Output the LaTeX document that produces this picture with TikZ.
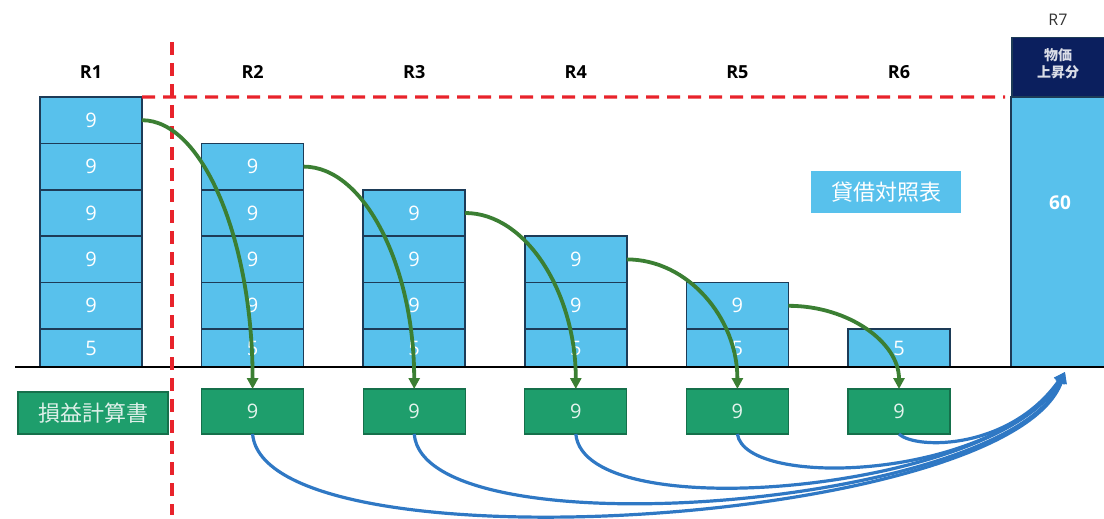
\documentclass[tikz,border=0pt]{standalone}
\usepackage{fontspec}
\setmainfont{Open Sans}
\newfontfamily\jp{Noto Sans CJK JP}
\usetikzlibrary{arrows.meta}

\definecolor{bsfill}{HTML}{58C1EC}
\definecolor{bsedge}{HTML}{1D3B57}
\definecolor{plfill}{HTML}{1E9E6C}
\definecolor{pledge}{HTML}{15704B}
\definecolor{plarrow}{HTML}{3B7F33}
\definecolor{flowblue}{HTML}{2F78C4}
\definecolor{cutred}{HTML}{E8232B}
\definecolor{navyhead}{HTML}{0B1F5E}

\begin{document}
\begin{tikzpicture}[x=1pt,y=-1pt,
  blk/.style={draw=bsedge, line width=1.5pt, fill=bsfill, minimum width=102pt,
    inner sep=0pt, outer sep=0pt, anchor=north west, text=white,
    font=\fontsize{20}{20}\selectfont},
  plbox/.style={draw=pledge, line width=1.2pt, fill=plfill, minimum width=102pt,
    minimum height=45pt, inner sep=0pt, outer sep=0pt, anchor=north west,
    text=white!88!plfill, font=\fontsize{20}{20}\selectfont},
  rlabel/.style={font=\fontsize{18}{18}\selectfont\bfseries, text=black},
  cutline/.style={draw=cutred, line width=3.4pt, dash pattern=on 13pt off 8pt},
  carry/.style={draw=plarrow, line width=3.8pt,
    -{Triangle[length=11pt,width=11pt]}},
  flow/.style={draw=flowblue, line width=3.2pt,
    -{Triangle[length=11pt,width=11pt]}}
]
\useasboundingbox (0,0) rectangle (1104,519);

% balance-sheet stacks: one 5-block at the bottom, 9-blocks above it
\foreach \i in {1,...,6} {
  \pgfmathsetmacro\cx{40+161.6*(\i-1)}
  \node[blk, minimum height=38pt] (c\i-0) at (\cx,329) {5};
  \pgfmathtruncatemacro\n{6-\i}
  \ifnum\n>0
    \foreach \k in {1,...,\n} {
      \node[blk, minimum height=46.4pt] (c\i-\k) at (\cx,{329-46.4*\k}) {9};
    }
  \fi
  \node[rlabel] (r\i) at ({\cx+51},72) {R\i};
}

% profit-and-loss boxes
\foreach \i in {2,...,6} {
  \pgfmathsetmacro\cx{40+161.6*(\i-1)}
  \node[plbox] (g\i) at (\cx,389) {9};
}
\node[plbox, minimum width=150pt, minimum height=42pt, text=white!85!plfill,
  font=\jp\fontsize{22}{22}\selectfont] (pl) at (18,392) {損益計算書};

% R7: price-increase column
\node[draw=bsedge, line width=1.5pt, fill=navyhead, minimum width=100pt,
  minimum height=60pt, inner sep=0pt, anchor=north west] (r7head) at (1011,37) {};
\node[text=white!85!navyhead, font=\jp\bfseries\fontsize{14}{17}\selectfont, align=center,
  inner sep=0pt] (r7text) at (1058,64) {物価\\上昇分};
\node[draw=bsedge, line width=1.5pt, fill=bsfill, minimum width=100pt,
  minimum height=270pt, inner sep=0pt, outer sep=0pt, anchor=north west] (r7body) at (1011,97) {};
\node[text=white, font=\fontsize{19}{19}\selectfont\bfseries] (sixty) at (1060,203) {60};
\node[font=\fontsize{16}{16}\selectfont, text=black!80] (r7) at (1058,20) {R7};

% balance-sheet tag
\node[fill=bsfill, minimum width=150pt, minimum height=42pt, inner sep=0pt,
  text=white, font=\jp\fontsize{22}{22}\selectfont] (bs) at (886,192) {貸借対照表};

% base line
\coordinate (baseL) at (15,367);
\coordinate (baseR) at (1104,367);
\draw[line width=1.8pt, black] (baseL) -- (baseR);

% red cut lines
\coordinate (cutT) at (172,42);
\coordinate (cutB) at (172,515);
\coordinate (capR) at (1005,97);
\draw[cutline] (cutT) -- (cutB);
\draw[cutline] (c1-5.north east) -- (capR);

% profit carried from each stack into the next period's P/L
\draw[carry] (c1-5.east) .. controls +(61,0) and +(0,-148) .. (g2.north);
\draw[carry] (c2-4.east) .. controls +(61,0) and +(0,-122) .. (g3.north);
\draw[carry] (c3-3.east) .. controls +(61,0) and +(0,-96) .. (g4.north);
\draw[carry] (c4-2.east) .. controls +(61,0) and +(0,-71) .. (g5.north);
\draw[carry] (c5-1.east) .. controls +(61,0) and +(0,-46) .. (g6.north);

% P/L amounts flowing into the R7 column
\coordinate (tgt) at (1065,372);
\draw[flow] (g2.south) .. controls +(12,138) and +(-55,155) .. (tgt);
\draw[flow] (g3.south) .. controls +(10,120) and +(-55,136) .. (tgt);
\draw[flow] (g4.south) .. controls +(9,96) and +(-65,118) .. (tgt);
\draw[flow] (g5.south) .. controls +(8,56) and +(-70,108) .. (tgt);
\draw[flow] (g6.south) .. controls +(17,16) and +(-55,78) .. (tgt);
\end{tikzpicture}
\end{document}
